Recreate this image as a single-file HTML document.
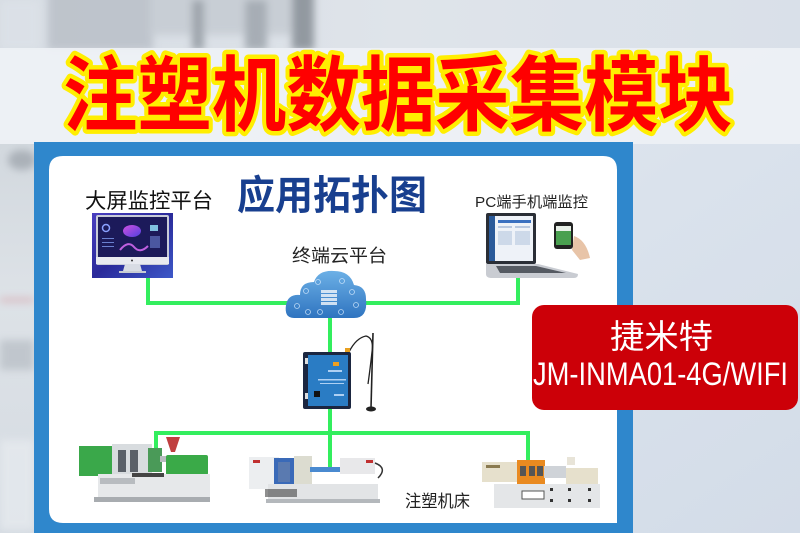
<!DOCTYPE html>
<html><head><meta charset="utf-8">
<style>
html,body{margin:0;padding:0;width:800px;height:533px;overflow:hidden;background:#e3e8ee;}
svg{display:block}
text{font-family:"Liberation Sans","Noto Sans CJK SC",sans-serif;}
</style></head>
<body>
<svg width="800" height="533" viewBox="0 0 800 533" xmlns="http://www.w3.org/2000/svg">
<defs>
  <linearGradient id="bgTop" x1="0" y1="0" x2="1" y2="0">
    <stop offset="0" stop-color="#d6dce3"/><stop offset="0.5" stop-color="#dfe4ea"/><stop offset="1" stop-color="#d9e0e9"/>
  </linearGradient>
  <linearGradient id="bgRight" x1="0" y1="0" x2="1" y2="1">
    <stop offset="0" stop-color="#e8edf3"/><stop offset="0.6" stop-color="#dae2ec"/><stop offset="1" stop-color="#d3dce8"/>
  </linearGradient>
  <linearGradient id="bgLeft" x1="0" y1="0" x2="0" y2="1">
    <stop offset="0" stop-color="#d2d8de"/><stop offset="0.4" stop-color="#dde2e7"/><stop offset="1" stop-color="#d5dbe2"/>
  </linearGradient>
  <linearGradient id="mon" x1="0" y1="0" x2="1" y2="1">
    <stop offset="0" stop-color="#4a3fc0"/><stop offset="0.5" stop-color="#2a2a9a"/><stop offset="1" stop-color="#3d58c8"/>
  </linearGradient>
  <linearGradient id="cloud" x1="0" y1="0" x2="0" y2="1">
    <stop offset="0" stop-color="#6cb0e6"/><stop offset="1" stop-color="#2f74c0"/>
  </linearGradient>
  <linearGradient id="blob" x1="0" y1="0" x2="1" y2="1">
    <stop offset="0" stop-color="#d050e0"/><stop offset="1" stop-color="#5040e0"/>
  </linearGradient>
  <filter id="bl" x="-20%" y="-20%" width="140%" height="140%"><feGaussianBlur stdDeviation="4"/></filter>
</defs>

<!-- background -->
<rect x="0" y="0" width="800" height="533" fill="url(#bgRight)"/>
<rect x="0" y="0" width="800" height="50" fill="url(#bgTop)"/>
<g filter="url(#bl)" opacity="0.8">
  <rect x="48" y="-10" width="105" height="60" fill="#b8bec6"/>
  <rect x="150" y="-10" width="160" height="45" fill="#c4cad1"/>
  <rect x="192" y="0" width="12" height="50" fill="#8f969e"/>
  <rect x="245" y="0" width="22" height="50" fill="#9aa1a9"/>
  <rect x="292" y="-10" width="22" height="60" fill="#80878f"/>
  <rect x="0" y="0" width="40" height="50" fill="#dde2e8"/>
</g>
<rect x="0" y="140" width="36" height="393" fill="url(#bgLeft)"/>
<g filter="url(#bl)" opacity="0.7">
  <ellipse cx="22" cy="160" rx="14" ry="10" fill="#9aa0a8"/>
  <rect x="0" y="298" width="34" height="4" fill="#d7a0a8"/>
  <rect x="0" y="340" width="34" height="30" fill="#b6bcc3"/>
  <rect x="0" y="440" width="34" height="90" fill="#e8ecf0"/>
</g>
<!-- light title band -->
<rect x="0" y="48" width="800" height="96" fill="#eef1f5" opacity="0.92"/>

<!-- title -->
<text x="63" y="124" font-size="82" font-weight="bold" textLength="670" lengthAdjust="spacingAndGlyphs"
  fill="#ff0000" stroke="#ffee00" stroke-width="9" stroke-linejoin="round" paint-order="stroke"
  style="font-family:'Noto Sans CJK SC','WenQuanYi Zen Hei',sans-serif">注塑机数据采集模块</text>

<!-- blue panel -->
<rect x="34" y="142" width="599" height="400" fill="#2f87cc"/>
<path d="M63 156 H603 Q617 156 617 170 V523 H63 Q49 523 49 509 V170 Q49 156 63 156 Z" fill="#ffffff"/>

<!-- heading -->
<text x="237" y="209" font-size="40" font-weight="bold" fill="#183f8f" textLength="190" lengthAdjust="spacingAndGlyphs"
  style="font-family:'Noto Sans CJK SC',sans-serif">应用拓扑图</text>
<text x="85" y="208" font-size="21" fill="#111" textLength="128" lengthAdjust="spacingAndGlyphs"
  style="font-family:'Noto Sans CJK SC',sans-serif">大屏监控平台</text>
<text x="292" y="262" font-size="18" fill="#222" textLength="95" lengthAdjust="spacingAndGlyphs"
  style="font-family:'Noto Sans CJK SC',sans-serif">终端云平台</text>
<text x="475" y="207" font-size="15" fill="#222" textLength="113" lengthAdjust="spacingAndGlyphs"
  style="font-family:'Liberation Sans','Noto Sans CJK SC',sans-serif">PC端手机端监控</text>
<text x="405" y="507" font-size="17" fill="#222" textLength="65" lengthAdjust="spacingAndGlyphs"
  style="font-family:'Noto Sans CJK SC',sans-serif">注塑机床</text>

<!-- green connectors -->
<g stroke="#33ee5e" stroke-width="4" fill="none">
  <polyline points="148,277 148,303 290,303"/>
  <polyline points="364,303 518,303 518,277"/>
  <line x1="330" y1="316" x2="330" y2="352"/>
  <line x1="330" y1="406" x2="330" y2="468"/>
  <polyline points="156,460 156,433 528,433 528,466"/>
</g>

<!-- monitor -->
<rect x="92" y="213" width="81" height="65" fill="url(#mon)"/>
<rect x="96" y="215" width="73" height="50" rx="2" fill="#c8ccd8"/>
<rect x="98" y="217" width="69" height="40" fill="#1c1a5a"/>
<ellipse cx="132" cy="231" rx="9" ry="6" fill="url(#blob)"/>
<circle cx="106" cy="228" r="3.5" fill="none" stroke="#8aa0ff" stroke-width="1.5"/>
<path d="M120 250 Q128 240 134 247 T148 246" stroke="#c060e0" stroke-width="2" fill="none"/>
<g fill="#6a80d0"><rect x="102" y="238" width="12" height="1"/><rect x="102" y="242" width="12" height="1"/><rect x="102" y="246" width="12" height="1"/><rect x="150" y="236" width="10" height="12" opacity="0.6"/><rect x="150" y="225" width="8" height="6" fill="#80c0e0"/></g>
<rect x="96" y="257" width="73" height="7" fill="#e8eaf0"/>
<circle cx="132" cy="260.5" r="1" fill="#333"/>
<path d="M125 264 H140 L142 271 H123 Z" fill="#d8dce4"/>
<rect x="119" y="271" width="27" height="2" fill="#c8ccd4"/>

<!-- cloud -->
<path d="M294 318 Q284 318 286 305 Q288 294 300 295 Q300 282 314 282 Q318 270 334 271 Q350 271 354 285 Q366 286 366 299 Q368 318 354 318 Z" fill="url(#cloud)"/>
<g fill="#ffffff" opacity="0.75">
  <rect x="321" y="290" width="16" height="3"/><rect x="321" y="294" width="16" height="3"/><rect x="321" y="298" width="16" height="3"/><rect x="321" y="302" width="16" height="3"/>
</g>
<g fill="none" stroke="#d8ecff" stroke-width="0.8" opacity="0.8">
  <circle cx="297" cy="306" r="2.5"/><circle cx="306" cy="291" r="2.5"/><circle cx="318" cy="282" r="2.5"/><circle cx="342" cy="281" r="2.5"/><circle cx="352" cy="292" r="2.5"/><circle cx="356" cy="305" r="2.5"/><circle cx="308" cy="312" r="2.5"/><circle cx="320" cy="312" r="2.5"/><circle cx="341" cy="312" r="2.5"/>
</g>

<!-- gateway device -->
<path d="M349 352 Q356 338 366 336 Q374 338 372 352 Q370 370 368 384" stroke="#222" stroke-width="1.3" fill="none"/>
<line x1="373" y1="333" x2="371" y2="408" stroke="#222" stroke-width="1.6"/>
<ellipse cx="371" cy="409" rx="5" ry="2.5" fill="#222"/>
<rect x="345" y="348" width="5" height="6" fill="#e8a020"/>
<rect x="303" y="352" width="48" height="57" rx="2" fill="#1b2640"/>
<rect x="308" y="355" width="40" height="51" fill="#2a7cc4"/>
<rect x="305" y="358" width="3" height="6" fill="#ddd"/><rect x="305" y="393" width="3" height="6" fill="#ddd"/>
<rect x="333" y="362" width="6" height="4" fill="#f0a020"/>
<g fill="#cfe6ff" opacity="0.8"><rect x="328" y="370" width="14" height="2"/><rect x="318" y="379" width="28" height="1.5"/><rect x="320" y="383" width="24" height="1"/><rect x="334" y="394" width="10" height="2"/></g>
<rect x="314" y="391" width="6" height="6" fill="#111"/>

<!-- laptop + phone -->
<rect x="486" y="213" width="50" height="51" rx="2" fill="#2a2e36"/>
<rect x="489" y="216" width="44" height="45" fill="#eef2f8"/>
<rect x="489" y="216" width="6" height="45" fill="#2a5a9a"/>
<rect x="498" y="220" width="33" height="3" fill="#3a70c0"/>
<g fill="#b8c8e0"><rect x="498" y="226" width="14" height="2"/><rect x="515" y="226" width="15" height="2"/><rect x="498" y="231" width="14" height="14" opacity="0.6"/><rect x="515" y="231" width="15" height="14" opacity="0.6"/></g>
<path d="M486 264 H538 L578 274 Q578 278 574 278 H492 Q486 278 486 274 Z" fill="#c9ccd2"/>
<path d="M496 266 H536 L566 273 H500 Z" fill="#555a62"/>
<path d="M574 236 Q586 240 590 258 L580 260 L572 250 Z" fill="#e8c4a8"/>
<rect x="554" y="222" width="19" height="27" rx="3" fill="#222"/>
<rect x="556" y="226" width="15" height="19" fill="#4aa050"/>
<rect x="556" y="226" width="15" height="5" fill="#e8f0e8"/>

<!-- machine 1 (green) -->
<g>
  <rect x="79" y="446" width="34" height="30" fill="#3aa84a"/>
  <rect x="112" y="444" width="40" height="38" fill="#d8dcdf"/>
  <rect x="118" y="450" width="8" height="22" fill="#5a6068"/><rect x="130" y="450" width="8" height="22" fill="#5a6068"/>
  <rect x="148" y="448" width="14" height="24" fill="#4a9a58"/>
  <rect x="160" y="456" width="26" height="6" fill="#b8bcc0"/>
  <path d="M166 437 H180 L175 452 H171 Z" fill="#c04040"/>
  <rect x="166" y="455" width="42" height="20" rx="2" fill="#3aaa48"/>
  <rect x="98" y="474" width="112" height="26" fill="#e6e8ea"/>
  <rect x="100" y="478" width="35" height="6" fill="#b8bcc0"/>
  <rect x="132" y="473" width="32" height="4" fill="#444"/>
  <rect x="94" y="497" width="116" height="5" fill="#a8acb0"/>
</g>
<!-- machine 2 (white/blue) -->
<g>
  <rect x="249" y="457" width="30" height="32" fill="#eceef0"/>
  <rect x="253" y="460" width="7" height="3" fill="#c03030"/>
  <rect x="274" y="458" width="20" height="28" fill="#3a6ab8"/>
  <rect x="278" y="462" width="12" height="20" fill="#5a7ab0"/>
  <rect x="294" y="456" width="18" height="30" fill="#dcdcd0"/>
  <rect x="310" y="467" width="34" height="5" fill="#4a8ad0"/>
  <rect x="340" y="458" width="35" height="16" fill="#e8e8ea"/>
  <rect x="366" y="460" width="7" height="3" fill="#c03030"/>
  <path d="M375 463 Q388 468 378 478" stroke="#333" stroke-width="1.5" fill="none"/>
  <rect x="268" y="484" width="110" height="17" fill="#e2e4e6"/>
  <rect x="265" y="489" width="32" height="8" fill="#333" opacity="0.55"/>
  <rect x="266" y="499" width="114" height="4" fill="#b4b8bc"/>
</g>
<!-- machine 3 (orange/cream) -->
<g>
  <rect x="482" y="462" width="38" height="20" fill="#e6e0cc"/>
  <rect x="486" y="465" width="14" height="3" fill="#8a7a50"/>
  <rect x="517" y="460" width="28" height="24" fill="#e98a20"/>
  <rect x="520" y="466" width="6" height="10" fill="#555"/><rect x="529" y="466" width="6" height="10" fill="#555"/><rect x="537" y="466" width="6" height="10" fill="#555"/>
  <rect x="544" y="466" width="22" height="12" fill="#cfd3d8"/>
  <rect x="566" y="468" width="32" height="16" fill="#e6e0cc"/>
  <rect x="567" y="457" width="8" height="8" fill="#e8e4d8"/>
  <rect x="494" y="484" width="106" height="24" fill="#e4e6e8"/>
  <rect x="522" y="491" width="22" height="8" fill="#fff" stroke="#555" stroke-width="1"/>
  <g fill="#333"><rect x="550" y="488" width="3" height="3"/><rect x="568" y="488" width="3" height="3"/><rect x="588" y="488" width="3" height="3"/><rect x="550" y="499" width="3" height="3"/><rect x="568" y="499" width="3" height="3"/><rect x="588" y="499" width="3" height="3"/></g>
</g>

<!-- red label box -->
<rect x="532" y="305" width="266" height="105" rx="12" fill="#cc0008"/>
<text x="610" y="348" font-size="33" fill="#ffffff" textLength="103" lengthAdjust="spacingAndGlyphs"
  style="font-family:'Noto Sans CJK SC',sans-serif">捷米特</text>
<text x="533" y="385" font-size="32" fill="#ffffff" textLength="255" lengthAdjust="spacingAndGlyphs">JM-INMA01-4G/WIFI</text>
</svg>
</body></html>
